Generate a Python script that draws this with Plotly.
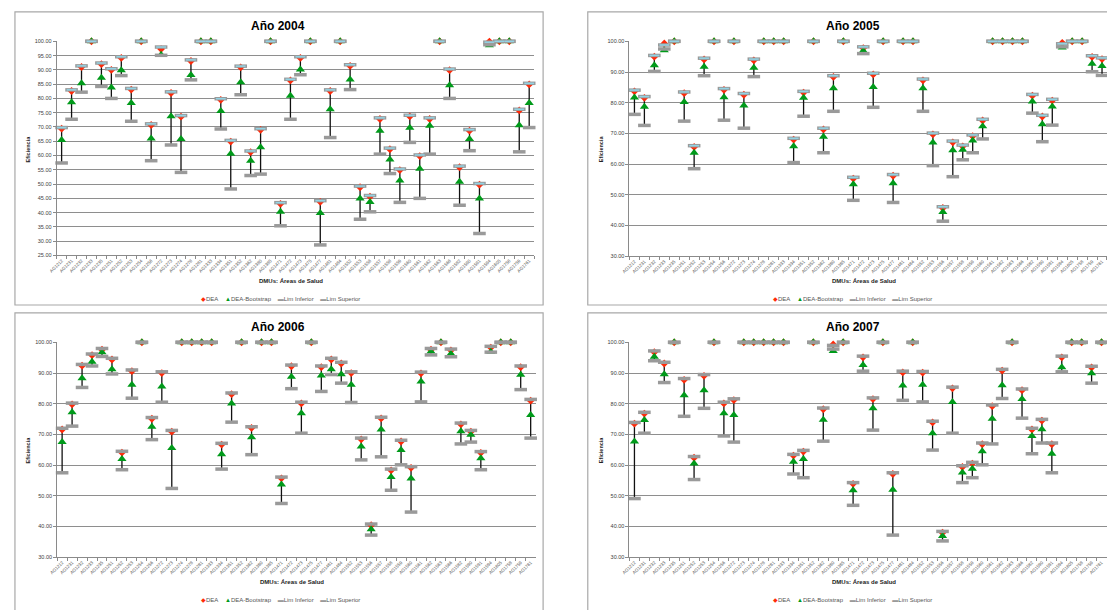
import plotly.graph_objects as go

W, H = 1107, 610

# Health-area codes (DMUs), same order in every year
dmus = [
    "AG1212", "AG1231", "AG1232", "AG1233", "AG1235", "AG1251", "AG1252", "AG1253",
    "AG1254", "AG1256", "AG1272", "AG1273", "AG1274", "AG1278", "AG1281", "AG1333",
    "AG1334", "AG1351", "AG1352", "AG1362", "AG1380", "AG1385", "AG1471", "AG1472",
    "AG1473", "AG1475", "AG1477", "AG1481", "AG1484", "AG1552", "AG1553", "AG1556",
    "AG1557", "AG1558", "AG1559", "AG1560", "AG1561", "AG1562", "AG1563", "AG1566",
    "AG1582", "AG1590", "AG1591", "AG1594", "AG1605", "AG1758", "AG1759", "AG1761",
]

# ---- 2004 ----
dea_2004 = [69.4, 82.6, 91.0, 100, 92.0, 90.0, 94.2, 83.1, 100, 70.7, 97.3, 81.9,
            73.6, 93.1, 100, 100, 79.5, 64.9, 90.9, 61.2, 69.0, 100, 43.1, 86.3,
            94.2, 100, 43.8, 82.6, 100, 91.4, 48.9, 45.6, 72.8, 62.2, 54.9, 73.7,
            59.8, 72.8, 100, 89.9, 55.9, 68.7, 49.8, 99.9, 100, 100, 75.8, 84.9]
boot_2004 = [65.4, 78.7, 85.3, 100, 87.2, 83.8, 89.9, 78.4, 100, 66.0, 95.3, 73.8,
             65.8, 88.2, 100, 100, 75.6, 60.6, 85.7, 58.2, 62.9, 100, 40.3, 80.9,
             90.1, 100, 39.9, 76.2, 100, 86.6, 45.0, 43.7, 68.7, 58.6, 51.3, 69.7,
             55.4, 70.4, 100, 84.6, 50.8, 65.8, 45.0, 98.6, 100, 100, 70.6, 78.4]
lower_2004 = [57.4, 72.7, 82.2, 100, 84.2, 80.0, 88.0, 72.0, 100, 58.2, 95.1, 63.7,
              54.1, 86.5, 100, 100, 69.3, 48.3, 81.3, 53.0, 53.5, 100, 35.4, 72.7,
              88.3, 100, 28.7, 66.3, 100, 83.1, 37.7, 40.3, 60.5, 53.7, 43.6, 64.6,
              45.0, 60.5, 100, 80.0, 42.6, 61.7, 32.7, 98.8, 100, 100, 61.3, 69.8]
upper_2004 = [69.8, 83.0, 91.4, 100, 92.4, 90.4, 94.6, 83.5, 100, 71.1, 98.0, 82.3,
              74.0, 93.5, 100, 100, 79.9, 65.3, 91.3, 61.6, 69.4, 100, 43.5, 86.7,
              94.6, 100, 44.2, 83.0, 100, 91.8, 49.3, 46.0, 73.2, 62.6, 55.3, 74.1,
              60.2, 73.2, 100, 90.3, 56.3, 69.1, 50.2, 99.7, 100, 100, 76.2, 85.3]

# ---- 2005 ----
dea_2005 = [83.7, 81.6, 95.0, 99.3, 100, 83.1, 65.6, 94.1, 100, 84.2, 100, 82.6,
            93.8, 100, 100, 100, 68.0, 83.3, 100, 71.3, 88.4, 100, 55.3, 97.8,
            89.2, 100, 56.2, 100, 100, 87.3, 69.7, 45.7, 67.1, 65.8, 69.1, 74.2,
            100, 100, 100, 100, 82.3, 75.5, 80.7, 99.5, 100, 100, 94.9, 94.2]
boot_2005 = [81.7, 78.7, 92.2, 97.1, 100, 80.2, 63.7, 91.7, 100, 81.8, 100, 79.1,
             91.4, 100, 100, 100, 65.8, 81.6, 100, 68.9, 84.7, 100, 53.4, 96.9,
             85.1, 100, 53.8, 100, 100, 84.7, 67.0, 44.4, 64.5, 64.7, 67.7, 72.3,
             100, 100, 100, 100, 80.4, 73.0, 78.8, 98.0, 100, 100, 92.7, 92.0]
lower_2005 = [76.2, 72.6, 90.2, 97.5, 100, 74.0, 58.5, 88.8, 100, 74.3, 100, 71.7,
              88.5, 100, 100, 100, 60.5, 75.6, 100, 63.7, 77.2, 100, 48.2, 96.0,
              78.5, 100, 47.5, 100, 100, 77.2, 59.5, 41.4, 55.9, 61.4, 63.7, 68.2,
              100, 100, 100, 100, 76.6, 67.3, 72.7, 98.2, 100, 100, 90.1, 88.9]
upper_2005 = [84.1, 82.0, 95.4, 98.8, 100, 83.5, 66.0, 94.5, 100, 84.6, 100, 83.0,
              94.2, 100, 100, 100, 68.4, 83.7, 100, 71.7, 88.8, 100, 55.7, 98.2,
              89.6, 100, 56.6, 100, 100, 87.7, 70.1, 46.1, 67.5, 66.2, 69.5, 74.6,
              100, 100, 100, 100, 82.7, 75.9, 81.1, 99.2, 100, 100, 95.3, 94.6]

# ---- 2006 ----
dea_2006 = [71.6, 79.8, 92.4, 95.8, 97.6, 94.4, 64.1, 90.6, 100, 75.1, 90.0, 70.9,
            100, 100, 100, 100, 66.7, 83.1, 100, 72.1, 100, 100, 55.7, 92.2,
            80.1, 100, 91.9, 94.4, 93.1, 90.0, 68.4, 40.4, 75.2, 58.3, 67.7, 59.1,
            89.9, 97.6, 100, 97.4, 73.3, 70.9, 64.0, 98.3, 100, 100, 91.9, 81.0]
boot_2006 = [67.5, 77.2, 88.3, 93.7, 96.8, 91.2, 62.0, 86.2, 100, 72.5, 85.6, 65.6,
             100, 100, 100, 100, 63.5, 80.1, 100, 69.1, 100, 100, 53.7, 88.8,
             76.9, 100, 89.2, 91.2, 89.6, 86.2, 66.1, 39.1, 71.6, 56.1, 64.9, 55.6,
             87.2, 97.0, 100, 96.3, 71.0, 69.9, 62.2, 96.9, 100, 100, 89.4, 76.3]
lower_2006 = [57.5, 72.7, 85.3, 92.3, 95.4, 89.7, 58.5, 81.8, 100, 68.3, 80.5, 52.4,
              100, 100, 100, 100, 58.7, 74.0, 100, 63.4, 100, 100, 47.5, 84.9,
              70.4, 100, 84.0, 89.5, 86.7, 80.4, 61.7, 37.2, 62.7, 51.8, 60.1, 44.7,
              80.6, 95.9, 100, 95.3, 66.9, 67.5, 58.5, 96.8, 100, 100, 84.6, 68.8]
upper_2006 = [72.0, 80.2, 92.8, 96.2, 98.0, 94.8, 64.5, 91.0, 100, 75.5, 90.4, 71.3,
              100, 100, 100, 100, 67.1, 83.5, 100, 72.5, 100, 100, 56.1, 92.6,
              80.5, 100, 92.3, 94.8, 93.5, 90.4, 68.8, 40.8, 75.6, 58.7, 68.1, 59.5,
              90.3, 98.0, 100, 97.8, 73.7, 71.3, 64.4, 98.7, 100, 100, 92.3, 81.4]

# ---- 2007 ----
dea_2007 = [73.5, 76.8, 96.8, 93.1, 100, 87.8, 62.4, 89.1, 100, 80.1, 81.2, 100,
            100, 100, 100, 100, 63.1, 64.4, 100, 78.2, 99.3, 100, 53.9, 95.1,
            81.5, 100, 57.1, 90.2, 100, 90.1, 73.9, 38.0, 85.0, 59.4, 60.5, 66.8,
            79.2, 90.8, 100, 84.4, 71.6, 74.5, 66.8, 95.1, 100, 100, 91.8, 100]
boot_2007 = [67.7, 74.7, 95.3, 89.6, 100, 82.8, 60.5, 84.4, 100, 76.9, 76.3, 100,
             100, 100, 100, 100, 61.1, 62.0, 100, 74.8, 97.2, 100, 51.8, 92.6,
             78.5, 100, 52.0, 85.9, 100, 86.2, 70.4, 36.9, 80.6, 57.6, 58.8, 64.5,
             75.1, 86.0, 100, 81.5, 69.5, 71.7, 63.7, 91.9, 100, 100, 89.9, 100]
lower_2007 = [49.1, 70.4, 94.0, 86.9, 100, 75.9, 55.3, 78.5, 100, 69.5, 67.5, 100,
              100, 100, 100, 100, 57.1, 55.9, 100, 67.8, 97.8, 100, 46.9, 90.6,
              71.4, 100, 37.2, 81.1, 100, 80.6, 64.9, 35.3, 70.4, 54.3, 55.9, 60.1,
              66.9, 81.7, 100, 75.3, 63.7, 67.2, 57.5, 90.4, 100, 100, 86.7, 100]
upper_2007 = [73.9, 77.2, 97.2, 93.5, 100, 88.2, 62.8, 89.5, 100, 80.5, 81.6, 100,
              100, 100, 100, 100, 63.5, 64.8, 100, 78.6, 99.0, 100, 54.3, 95.5,
              81.9, 100, 57.5, 90.6, 100, 90.5, 74.3, 38.4, 85.4, 59.8, 60.9, 67.2,
              79.6, 91.2, 100, 84.8, 72.0, 74.9, 67.2, 95.5, 100, 100, 92.2, 100]

years = ["2004", "2005", "2006", "2007"]
y_min = [25, 30, 30, 30]
y_step = [5, 10, 10, 10]
series = {
    "2004": (dea_2004, boot_2004, lower_2004, upper_2004),
    "2005": (dea_2005, boot_2005, lower_2005, upper_2005),
    "2006": (dea_2006, boot_2006, lower_2006, upper_2006),
    "2007": (dea_2007, boot_2007, lower_2007, upper_2007),
}


def px_x(v):
    return v / W


def px_y(v):
    return 1 - v / H


# Plot-area placement of each panel (pixels): left, right, top, bottom
areas = [
    (49, 530, 38.7, 255.0),
    (626, 1107, 38.7, 255.7),
    (49.5, 531.5, 342.7, 559.7),
    (626, 1106.5, 342.7, 559.7),
]
# Chart frames (pixels)
frames = [(7, 9, 539, 305), (584, 9, 1125, 305), (7, 313, 539, 625), (584, 313, 1125, 625)]

RED = "#FF2A0A"
GREEN = "#009A1A"
GREY = "#9A9A9A"
CYAN = "#93D3E4"
FONT = "Liberation Sans"

fig = go.Figure()
annotations = []
shapes = []


def label(text, x, y, size, color, angle=0):
    return dict(text=text, x=px_x(x), y=px_y(y), xref="paper", yref="paper",
                xanchor="center", yanchor="middle", showarrow=False, textangle=angle,
                font=dict(family=FONT, size=size, color=color))


for i, yr in enumerate(years):
    dea, boot, low, up = series[yr]
    n = "" if i == 0 else str(i + 1)
    xa, ya = "x" + n, "y" + n
    left, right, top, bottom = areas[i]

    # high-low connector between the interval limits
    cx, cy = [], []
    for d, lo, hi in zip(dmus, low, up):
        cx += [d, d, None]
        cy += [lo, hi, None]
    fig.add_trace(go.Scatter(x=cx, y=cy, mode="lines", xaxis=xa, yaxis=ya,
                             line=dict(color="#111111", width=1.3),
                             showlegend=False, hoverinfo="skip", cliponaxis=False))

    fig.add_trace(go.Scatter(x=dmus, y=dea, mode="markers", name="DEA", xaxis=xa, yaxis=ya,
                             marker=dict(symbol="diamond", size=6, color=RED),
                             showlegend=False, cliponaxis=False))
    fig.add_trace(go.Scatter(x=dmus, y=boot, mode="markers", name="DEA-Bootstrap",
                             xaxis=xa, yaxis=ya,
                             marker=dict(symbol="triangle-up", size=8, color=GREEN),
                             showlegend=False, cliponaxis=False))
    fig.add_trace(go.Scatter(x=dmus, y=low, mode="markers", name="Lim Inferior",
                             xaxis=xa, yaxis=ya,
                             marker=dict(symbol="line-ew", size=9, color=GREY,
                                         line=dict(color=GREY, width=3.5)),
                             showlegend=False, cliponaxis=False))
    fig.add_trace(go.Scatter(x=dmus, y=up, mode="markers", name="Lim Superior",
                             xaxis=xa, yaxis=ya,
                             marker=dict(symbol="line-ew", size=9, color=GREY,
                                         line=dict(color=GREY, width=3.5)),
                             showlegend=False, cliponaxis=False))
    if yr in ("2004", "2005"):
        # light-blue fill of the upper-limit dash
        fig.add_trace(go.Scatter(x=dmus, y=up, mode="markers", xaxis=xa, yaxis=ya,
                                 marker=dict(symbol="line-ew", size=7, color=CYAN,
                                             line=dict(color=CYAN, width=1.5)),
                                 showlegend=False, hoverinfo="skip", cliponaxis=False))

    fig.layout["xaxis" + n] = dict(
        domain=[px_x(left), px_x(right)], anchor=ya, type="category",
        categoryorder="array", categoryarray=dmus, range=[-0.5, len(dmus) - 0.5],
        autorange=False,
        showline=True, linecolor="#8A8A8A", linewidth=1, ticks="outside",
        ticklen=3, tickcolor="#8A8A8A", tickson="boundaries", showgrid=False,
        tickangle=-45, tickfont=dict(family=FONT, size=4.5, color="#555555"),
        fixedrange=True, zeroline=False,
    )
    fig.layout["yaxis" + n] = dict(
        domain=[px_y(bottom), px_y(top)], anchor=xa, range=[y_min[i], 100],
        autorange=False,
        tick0=y_min[i], dtick=y_step[i], tickformat=".2f",
        showline=True, linecolor="#8A8A8A", linewidth=1, ticks="outside",
        ticklen=3, tickcolor="#8A8A8A", showgrid=True, gridcolor="#8E8E8E",
        gridwidth=1, zeroline=False,
        tickfont=dict(family=FONT, size=5.5, color="#404040"), fixedrange=True,
    )

    fx0, fy0, fx1, fy1 = frames[i]
    shapes.append(dict(type="rect", xref="paper", yref="paper",
                       x0=px_x(fx0), x1=px_x(fx1), y0=px_y(fy1), y1=px_y(fy0),
                       line=dict(color="#A8A8A8", width=1.2), layer="below"))

    top_off = 0 if i < 2 else 304
    cx_title = 272 if i in (0, 2) else 851
    annotations.append(label("<b>Año %s</b>" % yr, cx_title, 23 + top_off, 12, "#000000"))
    annotations.append(label("<b>DMUs: Áreas de Salud</b>", (left + right) / 2 - 4,
                             281 + top_off, 6, "#222222"))
    ytx = 20 if i in (0, 2) else 597
    annotations.append(label("<b>Eficiencia</b>", ytx, 147 + top_off, 5.5, "#222222", -90))
    sp = "\u00a0\u00a0\u00a0\u00a0"
    legend_text = (
        "<span style='color:%s'>◆</span>DEA%s" % (RED, sp)
        + "<span style='color:%s'>▲</span>DEA-Bootstrap%s" % (GREEN, sp)
        + "<span style='color:%s'>▬</span>Lim Inferior%s" % (GREY, sp)
        + "<span style='color:%s'>▬</span>Lim Superior" % GREY
    )
    lgx = 274 if i in (0, 2) else 851
    annotations.append(label(legend_text, lgx, 299 + top_off, 6, "#555555"))

fig.update_layout(
    width=W, height=H, margin=dict(l=0, r=0, t=0, b=0),
    paper_bgcolor="white", plot_bgcolor="white",
    showlegend=False, annotations=annotations, shapes=shapes,
    font=dict(family=FONT),
)

fig.write_html("out.html", config={"displayModeBar": False})
